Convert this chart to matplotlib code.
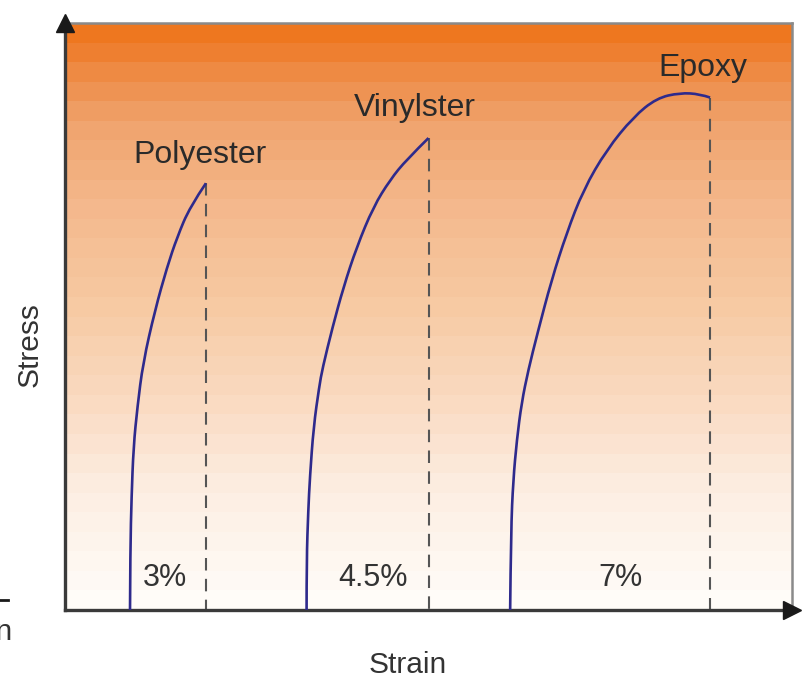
import numpy as np
import matplotlib.pyplot as plt
from matplotlib.colors import LinearSegmentedColormap
from matplotlib.path import Path
from matplotlib.patches import PathPatch

plt.rcParams["font.family"] = ["Liberation Sans", "DejaVu Sans"]

# strain (arbitrary units along the axis) / stress (0-100)
materials = ["Polyester", "Vinylster", "Epoxy"]
strain_labels = ["3%", "4.5%", "7%"]

polyester_x = [2.325, 2.335, 2.38, 2.45, 2.59, 2.79, 3.22, 3.65, 4.01, 4.47, 5.04]
polyester_y = [0.0, 10.2, 19.25, 27.8, 34.6, 42.1, 51.1, 58.4, 63.5, 68.7, 72.7]

vinylster_x = [8.64, 8.64, 8.70, 8.76, 8.89, 9.09, 9.21, 9.57, 9.96, 10.43, 11.03,
               11.63, 12.21, 13.0]
vinylster_y = [0.0, 8.5, 17.0, 22.7, 31.2, 38.0, 41.2, 48.2, 55.0, 61.8, 68.7,
               73.3, 76.7, 80.4]

epoxy_x = [15.92, 15.95, 16.03, 16.16, 16.33, 16.57, 16.90, 17.40, 17.94, 18.54,
           19.37, 20.33, 21.16, 21.99, 22.71, 23.07]
epoxy_y = [0.0, 13.6, 22.1, 29.0, 35.3, 40.9, 47.2, 56.2, 64.2, 71.6, 78.4, 84.0,
           87.2, 88.1, 87.9, 87.3]

curves_x = [polyester_x, vinylster_x, epoxy_x]
curves_y = [polyester_y, vinylster_y, epoxy_y]

name_pos = [(4.83, 77.5), (12.52, 85.6), (22.82, 92.4)]
pct_x = [3.58, 11.02, 19.85]
pct_y = 5.45

X_MAX, Y_MAX = 26.0, 100.0


def smooth_path(xs, ys):
    # quadratic bezier through the midpoints of the read points
    pts = np.column_stack([xs, ys])
    verts = [pts[0]]
    codes = [Path.MOVETO]
    for i in range(1, len(pts) - 1):
        mid = (pts[i] + pts[i + 1]) / 2
        if i == len(pts) - 2:
            mid = pts[i + 1]
        verts += [pts[i], mid]
        codes += [Path.CURVE3, Path.CURVE3]
    return Path(verts, codes)


fig = plt.figure(figsize=(8.08, 6.82), dpi=100)
ax = fig.add_axes([65 / 808, 72 / 682, 727 / 808, 587 / 682])

# banded orange -> white background
bg = LinearSegmentedColormap.from_list("bg", [
    (0.00, "#fffcf8"), (0.18, "#fdefe4"), (0.35, "#fadbc2"), (0.52, "#f7caa3"),
    (0.70, "#f4b88c"), (0.84, "#f0a46e"), (0.93, "#ee8b45"), (1.00, "#ee771f")])
bands = np.linspace(0, 1, 30).reshape(-1, 1)
ax.imshow(bands, cmap=bg, origin="lower", aspect="auto", interpolation="nearest",
          extent=(0, X_MAX, 0, Y_MAX), zorder=0)

for xs, ys in zip(curves_x, curves_y):
    ax.add_patch(PathPatch(smooth_path(xs, ys), fill=False, edgecolor="#2e2a8c",
                           lw=1.9, capstyle="butt", zorder=3))
    ax.plot([xs[-1], xs[-1]], [ys[-1], 0], color="#555555", lw=1.5,
            dashes=(6, 4), zorder=2)

for name, (tx, ty) in zip(materials, name_pos):
    ax.text(tx, ty, name, ha="center", va="center", fontsize=23, color="#2a2a2a")
for lab, tx in zip(strain_labels, pct_x):
    ax.text(tx, pct_y, lab, ha="center", va="center", fontsize=22, color="#333333")

ax.set_xlim(0, X_MAX)
ax.set_ylim(0, Y_MAX)
ax.set_xticks([])
ax.set_yticks([])
for side in ["left", "bottom"]:
    ax.spines[side].set_color("#3a3a3a")
    ax.spines[side].set_linewidth(2.4)
for side in ["top", "right"]:
    ax.spines[side].set_color("#8a8a8a")
    ax.spines[side].set_linewidth(1.8)

# arrow heads on the axes
ax.plot([0], [1.0], marker="^", markersize=13, color="#1a1a1a",
        transform=ax.transAxes, clip_on=False, zorder=5)
ax.plot([1.0], [0], marker=">", markersize=13, color="#1a1a1a",
        transform=ax.transAxes, clip_on=False, zorder=5)

fig.text(408 / 808, 1 - 665 / 682, "Strain", ha="center", va="center",
         fontsize=21.5, color="#333333")
fig.text(30 / 808, 1 - 345 / 682, "Stress", ha="center", va="center",
         fontsize=21.5, color="#333333", rotation=90)

# cropped fragments at the left edge of the original picture
fig.text(13 / 808, 1 - 632 / 682, "Strain", ha="right", va="center",
         fontsize=21.5, color="#333333")
fig.lines.append(plt.Line2D([-0.01, 8 / 808], [1 - 600 / 682] * 2, color="#1a1a1a",
                            lw=2, transform=fig.transFigure))

fig.savefig("out.png", dpi=100)
